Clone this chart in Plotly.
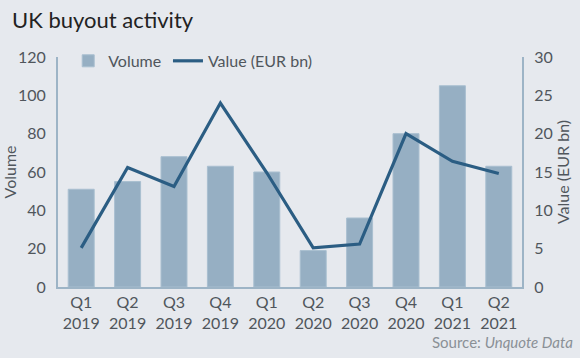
import plotly.graph_objects as go

categories = ["Q1<br>2019", "Q2<br>2019", "Q3<br>2019", "Q4<br>2019", "Q1<br>2020",
              "Q2<br>2020", "Q3<br>2020", "Q4<br>2020", "Q1<br>2021", "Q2<br>2021"]
volume = [51, 55, 68, 63, 60, 19, 36, 80, 105, 63]
value_eur_bn = [5.1, 15.6, 13.1, 24.0, 14.9, 5.1, 5.6, 20.0, 16.4, 14.8]

FONT = "Lato"
GRAY = "#50565c"
AXIS = "#9db4c6"
BAR = "#96afc3"
LINE = "#2b5d83"
BG = "#e6e9ee"

fig = go.Figure()
fig.add_trace(go.Bar(x=categories, y=volume, name="Volume",
                     marker=dict(color=BAR, line=dict(color="#a9bfd0", width=1)),
                     width=0.56, yaxis="y", legend="legend"))
fig.add_trace(go.Scatter(x=categories, y=value_eur_bn, name="Value (EUR bn)", mode="lines",
                         line=dict(color=LINE, width=3.2), yaxis="y2", legend="legend2"))

legend_style = dict(orientation="h", y=0.983, xanchor="left", yanchor="middle",
                    bgcolor="rgba(0,0,0,0)", font=dict(size=16, color=GRAY), itemwidth=30)

fig.update_layout(
    width=580, height=358,
    paper_bgcolor=BG, plot_bgcolor=BG,
    margin=dict(l=58, r=58, t=57, b=71, autoexpand=False),
    font=dict(family=FONT, color=GRAY, size=16),
    showlegend=True,
    legend=dict(x=0.022, **legend_style),
    legend2=dict(x=0.237, **legend_style),
    title=dict(text="UK buyout activity", x=12 / 580, xanchor="left", y=0.944, yanchor="middle",
               font=dict(family=FONT, size=22, color="#222")),
    xaxis=dict(type="category", showline=True, linecolor=AXIS, linewidth=2, ticks="",
               showgrid=False, automargin=False, tickfont=dict(size=16, color=GRAY)),
    yaxis=dict(range=[0, 120], dtick=20, showline=True, linecolor=AXIS, linewidth=2,
               showgrid=False, zeroline=False, ticks="", ticklabelstandoff=7, automargin=False,
               tickfont=dict(size=16, color=GRAY),
               title=dict(text="Volume", font=dict(size=16, color=GRAY), standoff=2)),
    yaxis2=dict(range=[0, 30], dtick=5, overlaying="y", side="right", showline=True,
                linecolor=AXIS, linewidth=2, showgrid=False, zeroline=False, ticks="",
                ticklabelstandoff=7, automargin=False, tickfont=dict(size=16, color=GRAY),
                title=dict(text="Value (EUR bn)", font=dict(size=16, color=GRAY), standoff=4)),
    annotations=[dict(text="Source: <i>Unquote Data</i>", xref="paper", yref="paper",
                      x=1.114, y=-0.239, xanchor="right", yanchor="middle", showarrow=False,
                      font=dict(size=15, color="#8a9096"))],
)

fig.write_html("out.html", config={"displayModeBar": False},
               post_script="document.body.style.margin='0';document.body.style.background='%s';" % BG)
